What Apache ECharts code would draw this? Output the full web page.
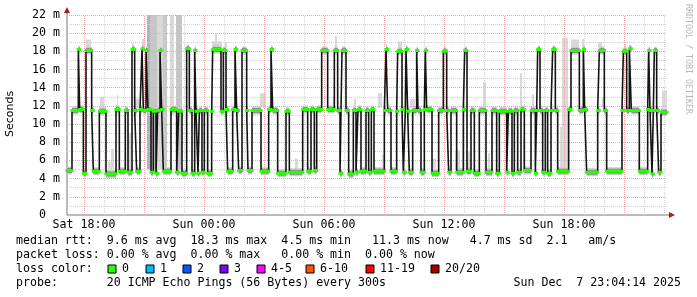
<!DOCTYPE html>
<html><head><meta charset="utf-8">
<script src="https://cdn.jsdelivr.net/npm/echarts@6/dist/echarts.min.js"></script>
<style>html,body{margin:0;padding:0;background:#fff}#c{width:697px;height:297px}</style>
</head><body><div id="c"></div>
<script>
// ---- data (minutes since graph start, median rtt in ms) ----
const segStartMin = [0,15,34,38,49,57,74,79,97,117,147,157,175,183,195,203,209,219,225,229,237,243,252,259,267,272,279,284,289,312,329,335,345,359,367,375,383,387,393,397,405,412,422,434,437,462,469,477,482,497,504,509,515,525,539,543,555,582,605,612,617,632,657,667,707,722,732,742,749,764,782,802,812,819,825,837,845,859,867,873,882,897,905,913,921,952,957,962,972,989,992,1005,1009,1015,1017,1022,1027,1037,1049,1053,1062,1072,1075,1079,1095,1115,1129,1139,1145,1152,1169,1189,1193,1200,1212,1222,1237,1257,1275,1289,1297,1319,1324,1335,1342,1352,1362,1372,1392,1405,1409,1412,1419,1427,1435,1442,1452,1457,1465,1472,1505,1512,1537,1549,1553,1559,1592,1597,1612,1619,1665,1669,1679,1687,1693,1717,1742,1745,1749,1755,1759,1762,1769,1775,1782];
const segMedian = [4.9,11.5,18.2,11.6,4.6,18.1,11.5,4.8,11.4,4.5,11.6,4.8,11.5,4.7,18.2,11.5,4.8,11.6,18.3,11.5,18.1,11.6,4.7,11.4,4.6,11.5,18.1,11.6,4.8,11.6,4.7,11.4,4.6,18.3,11.5,4.6,18.1,11.4,4.6,11.5,4.7,11.5,4.6,11.4,18.2,11.4,18.1,11.6,4.8,11.6,18.2,11.5,4.9,18.1,11.5,4.9,11.5,4.8,11.6,18.2,11.5,4.6,11.4,4.7,11.6,4.8,11.6,4.9,11.6,18.1,11.6,18.1,11.5,4.6,18.1,11.5,4.5,11.5,4.7,11.6,4.8,11.5,4.7,11.6,4.8,11.5,18.2,11.5,4.8,11.4,18.0,11.6,4.7,11.5,18.2,11.4,4.7,11.5,18.1,11.5,4.7,11.6,18.1,11.6,4.6,11.5,18.0,11.5,4.7,11.5,4.7,11.6,18.1,4.8,11.5,4.6,11.5,4.7,11.5,4.6,11.4,4.7,11.4,4.6,11.5,4.7,11.6,4.9,11.5,4.6,11.5,18.2,11.5,4.7,11.5,4.6,11.5,18.2,11.5,4.8,11.6,18.1,11.5,18.2,11.6,4.7,11.5,18.1,11.5,4.8,11.5,18.0,11.5,18.3,11.5,4.8,11.6,18.1,11.5,4.5,11.5,18.1,11.5,4.7,11.3];
const endMin = 1800;
const startHour = 17.15;            // hours since Sat 00:00 at the left edge
// smoke (ping spread) bands: [startMin, endMin, low ms, high ms]
const smokeLight = [[57,72,18.4,19.3],[99,111,11.8,13.0],[123,132,5.0,5.9],[132,141,5.0,7.3],[150,153,11.8,13.2],[183,192,5.0,9.0],[195,201,18.4,18.9],[204,216,11.8,12.8],[225,234,18.4,19.4],[270,288,5.0,22],[309,321,11.0,22],[435,465,18.4,19.1],[444,450,18.4,20.0],[474,480,18.4,19.0],[579,597,11.8,13.4],[684,693,5.0,6.2],[798,804,11.8,13.2],[804,810,18.4,19.7],[861,867,11.8,12.8],[933,945,11.8,13.4],[945,951,5.0,6.6],[957,960,18.4,18.8],[993,1005,18.4,19.1],[1029,1044,11.8,12.8],[1095,1107,5.0,6.2],[1164,1179,5.0,7.1],[1197,1209,5.0,7.0],[1248,1257,11.8,14.6],[1263,1269,5.0,6.8],[1359,1365,11.8,15.6],[1368,1371,5.0,8.6],[1395,1401,11.8,13.3],[1479,1485,5.0,9.7],[1485,1503,5.0,19.5],[1512,1536,18.4,19.3],[1545,1551,18.4,19.4],[1593,1605,18.4,19.0],[1605,1614,11.8,13.0],[1671,1677,18.4,18.8],[1713,1719,5.0,6.2],[1785,1800,11.8,13.7]];
const smokeMid = [[249,270,5.0,22],[288,300,5.0,22],[327,345,5.0,22]];
const smokeDark = [[240,249,5.0,22]];
const xTickHours = [18,24,30,36,42];
const xTickLabels = ['Sat 18:00','Sun 00:00','Sun 06:00','Sun 12:00','Sun 18:00'];
const yMin = 0, yMax = 22, yStep = 2;
const statLines = [
  'median rtt:  9.6 ms avg  18.3 ms max  4.5 ms min   11.3 ms now   4.7 ms sd  2.1   am/s',
  'packet loss: 0.00 % avg  0.00 % max   0.00 % min  0.00 % now',
  'loss color:',
  'probe:       20 ICMP Echo Pings (56 Bytes) every 300s'
];
const lossLabels = ['0','1','2','3','4-5','6-10','11-19','20/20'];
const lossColors = ['#26ff00','#00b8ff','#0059ff','#7e00ff','#ff00ff','#ff5500','#ff0000','#a10000'];
const stamp = 'Sun Dec  7 23:04:14 2025';

// ---- build ----
const h = m => startHour + m / 60;
const stepPts = [], flatPts = [];
for (let i = 0; i < segStartMin.length; i++) {
  const t0 = h(segStartMin[i]);
  const t1 = h(i + 1 < segStartMin.length ? segStartMin[i + 1] : endMin);
  stepPts.push([t0, segMedian[i]], [t1, segMedian[i]]);
  flatPts.push([t0, segMedian[i]], [t1, segMedian[i]], [t1, '-']);
}
const toRect = a => a.map(r => [h(r[0]), h(r[1]), r[2], Math.min(r[3], yMax)]);
function smokeSeries(arr, color) {
  return {
    type: 'custom', z: 2, clip: true, silent: true,
    data: toRect(arr),
    encode: { x: [0, 1], y: [2, 3] },
    renderItem: (p, api) => {
      const a = api.coord([api.value(0), api.value(3)]);
      const b = api.coord([api.value(1), api.value(2)]);
      return { type: 'rect', shape: { x: a[0], y: a[1], width: Math.max(1, b[0] - a[0]), height: b[1] - a[1] }, style: { fill: color } };
    }
  };
}
const majX = [], minX = [], majY = [], minY = [];
for (let k = 18; k <= 47; k++) (k % 3 === 0 ? majX : minX).push({ xAxis: k });
for (let v = yMin; v <= yMax; v++) (v % yStep === 0 ? majY : minY).push({ yAxis: v });
const gridLine = (data, color) => ({
  type: 'line', z: 3, data: [[startHour, '-']], silent: true,
  markLine: { silent: true, symbol: 'none', label: { show: false }, animation: false,
    lineStyle: { color: color, width: 1, type: [1, 1] }, data: data }
});

const MONO = '"DejaVu Sans Mono", monospace';
const chart = echarts.init(document.getElementById('c'), null, { renderer: 'canvas' });
const gfx = [];
statLines.forEach((t, i) => gfx.push({ type: 'text', x: 16, y: 241 + i * 14, style: { text: t, font: '11.6px ' + MONO, fill: '#000', verticalAlign: 'middle' } }));
const boxX = [108, 146, 183, 220, 257, 306, 366, 431];
lossLabels.forEach((l, i) => {
  gfx.push({ type: 'rect', shape: { x: boxX[i], y: 265, width: 8, height: 8 }, style: { fill: lossColors[i], stroke: '#000', lineWidth: 1 } });
  gfx.push({ type: 'text', x: boxX[i] + 14, y: 269, style: { text: l, font: '11.6px ' + MONO, fill: '#000', verticalAlign: 'middle' } });
});
gfx.push({ type: 'text', x: 681, y: 283, style: { text: stamp, font: '11.6px ' + MONO, fill: '#000', align: 'right', verticalAlign: 'middle' } });
gfx.push({ type: 'text', x: 10, y: 114, rotation: Math.PI / 2, style: { text: 'Seconds', font: '11px "DejaVu Sans", sans-serif', fill: '#000', align: 'center', verticalAlign: 'middle' } });
gfx.push({ type: 'text', x: 688, y: 59, rotation: -Math.PI / 2, style: { text: 'RRDTOOL / TOBI OETIKER', font: '8.3px ' + MONO, fill: '#b8b8b8', align: 'center', verticalAlign: 'middle' } });
gfx.push({ type: 'line', shape: { x1: 67, y1: 215, x2: 67, y2: 10 }, style: { stroke: '#777', lineWidth: 1 } });
gfx.push({ type: 'line', shape: { x1: 67, y1: 215, x2: 670, y2: 215 }, style: { stroke: '#777', lineWidth: 1 } });
gfx.push({ type: 'polygon', shape: { points: [[64, 13], [70, 13], [67, 7]] }, style: { fill: '#a02020' } });
gfx.push({ type: 'polygon', shape: { points: [[669, 212], [669, 218], [675, 215]] }, style: { fill: '#a02020' } });

chart.setOption({
  animation: false,
  backgroundColor: '#fff',
  grid: { left: 67, right: 30, top: 15, bottom: 82 },
  xAxis: {
    type: 'value', min: startHour, max: startHour + 30,
    axisLine: { show: false }, axisTick: { show: false }, splitLine: { show: false },
    axisLabel: { customValues: xTickHours, margin: 4, fontFamily: 'DejaVu Sans Mono', fontSize: 11.6, color: '#000',
      formatter: v => xTickLabels[xTickHours.indexOf(Math.round(v))] || '' }
  },
  yAxis: {
    type: 'value', min: yMin, max: yMax, interval: yStep,
    axisLine: { show: false }, axisTick: { show: false }, splitLine: { show: false },
    axisLabel: { margin: 7, fontFamily: 'DejaVu Sans Mono', fontSize: 11.6, color: '#000',
      formatter: v => v === 0 ? '0  ' : v + ' m' }
  },
  graphic: gfx,
  series: [
    smokeSeries(smokeLight, '#d9d9d9'),
    smokeSeries(smokeMid, '#c6c6c6'),
    smokeSeries(smokeDark, '#b3b3b3'),
    gridLine(minX, '#d2d2d2'),
    gridLine(minY, '#d2d2d2'),
    gridLine(majX, '#e8aaaa'),
    gridLine(majY, '#e8aaaa'),
    { type: 'line', z: 4, data: flatPts, symbol: 'none', silent: true, connectNulls: false,
      lineStyle: { color: '#cbcbcb', width: 8, cap: 'butt' } },
    { type: 'line', z: 5, data: flatPts, symbol: 'none', silent: true, connectNulls: false,
      lineStyle: { color: '#909090', width: 5, cap: 'butt' } },
    { type: 'line', z: 6, data: stepPts, symbol: 'none', silent: true,
      lineStyle: { color: '#141414', width: 1.6 } },
    { type: 'line', z: 7, data: flatPts, symbol: 'none', silent: true, connectNulls: false,
      lineStyle: { color: '#26ff00', width: 3, cap: 'square' } }
  ]
});
</script></body></html>
